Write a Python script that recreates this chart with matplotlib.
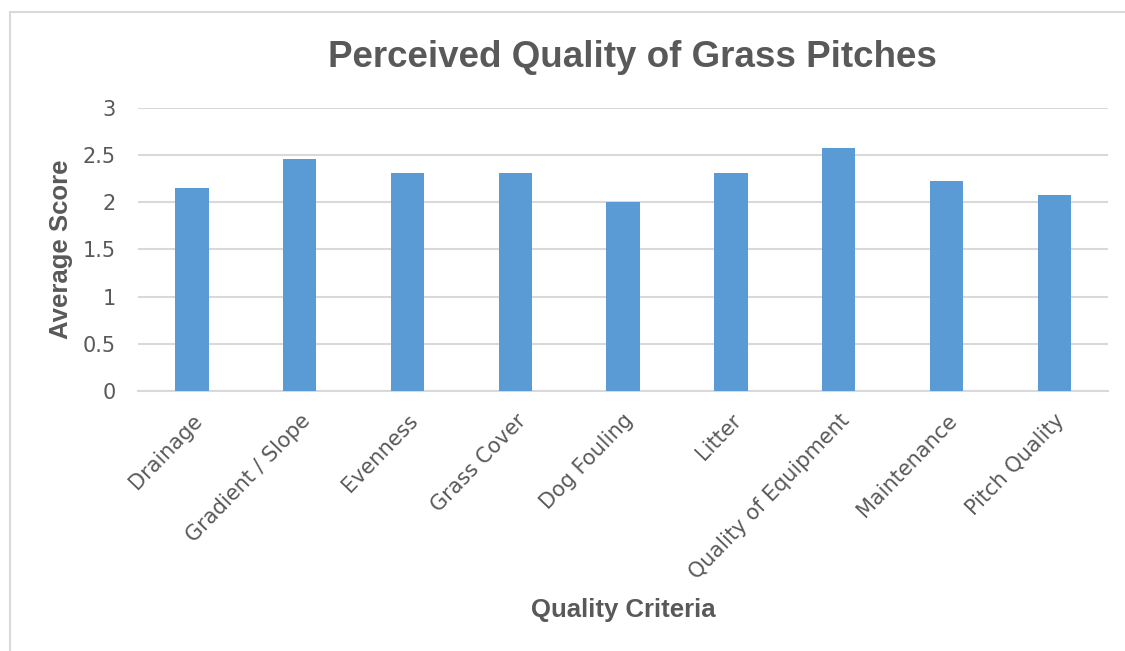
import matplotlib
matplotlib.use('Agg')
import matplotlib.pyplot as plt
import numpy as np
from matplotlib.lines import Line2D

criteria = ['Drainage', 'Gradient / Slope', 'Evenness', 'Grass Cover', 'Dog Fouling',
            'Litter', 'Quality of Equipment', 'Maintenance', 'Pitch Quality']
scores = [2.15, 2.46, 2.31, 2.31, 2.0, 2.31, 2.58, 2.23, 2.08]
yticks = [0, 0.5, 1, 1.5, 2, 2.5, 3]
ytick_labels = ['0', '0.5', '1', '1.5', '2', '2.5', '3']

bar_color = '#5b9bd5'
text_color = '#595959'
grid_color = '#d9d9d9'

fig = plt.figure(figsize=(11.25, 6.51), dpi=100)
ax = fig.add_axes([0.1227, 0.3994, 0.8623, 0.4347])

x = np.arange(len(criteria))
ax.bar(x, scores, width=0.31, color=bar_color, zorder=3)

ax.set_ylim(0, 3)
ax.set_xlim(-0.5, len(criteria) - 0.5)
ax.set_yticks(yticks)
ax.set_yticklabels(ytick_labels, fontsize=15, color=text_color, family='DejaVu Sans')
ax.set_xticks(x)
ax.set_xticklabels(criteria, rotation=46, ha='right', rotation_mode='anchor',
                   fontsize=15, color=text_color, family='DejaVu Sans')
ax.tick_params(axis='both', length=0)
ax.tick_params(axis='y', pad=16)
ax.tick_params(axis='x', pad=14)

ax.grid(axis='y', color=grid_color, linewidth=1.5, zorder=0)
for s in ['top', 'right', 'left']:
    ax.spines[s].set_visible(False)
ax.spines['bottom'].set_color(grid_color)
ax.spines['bottom'].set_linewidth(1.5)

ax.set_ylabel('Average Score', fontsize=18.5, fontweight='bold', color=text_color,
              family='Liberation Sans', labelpad=7)
fig.text(0.554, 0.063, 'Quality Criteria', fontsize=18.5, fontweight='bold',
         color=text_color, family='Liberation Sans', ha='center', va='center')
fig.text(0.562, 0.912, 'Perceived Quality of Grass Pitches', fontsize=26.5,
         fontweight='bold', color=text_color, family='Liberation Sans',
         ha='center', va='center')

# chart area border (left and top only visible)
fig.add_artist(Line2D([10 / 1125, 10 / 1125], [0, 1 - 12 / 651], color='#d9d9d9',
                      linewidth=1.5, transform=fig.transFigure))
fig.add_artist(Line2D([10 / 1125, 1], [1 - 12 / 651, 1 - 12 / 651], color='#d9d9d9',
                      linewidth=1.5, transform=fig.transFigure))

fig.savefig('out.png', dpi=100, facecolor='white')
